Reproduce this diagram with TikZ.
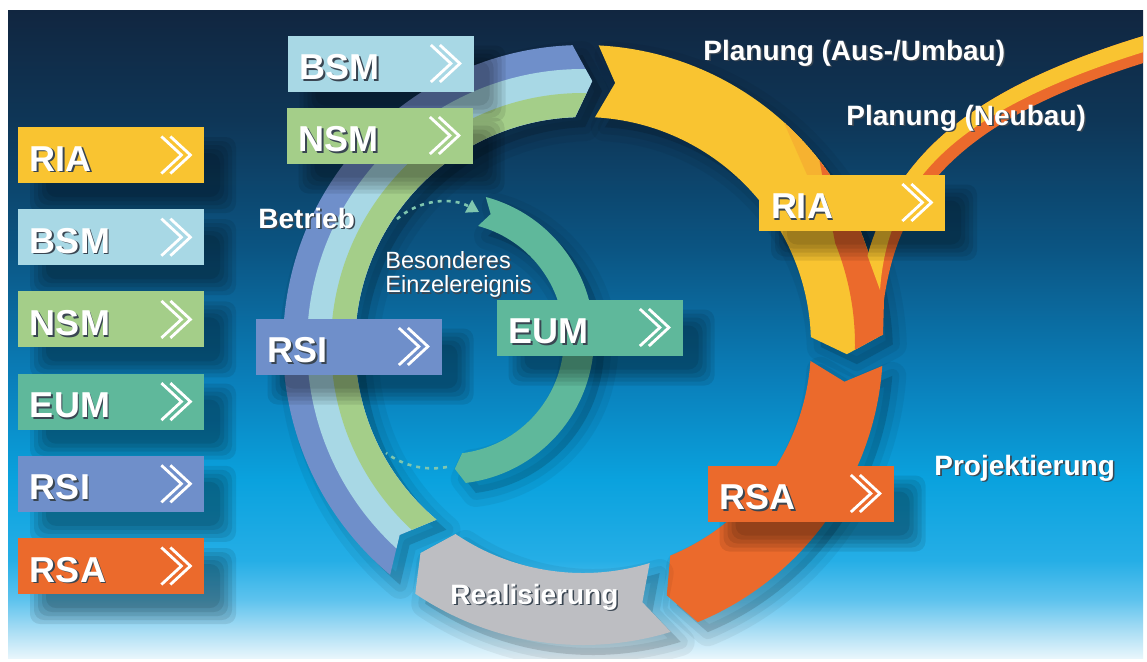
\documentclass[tikz,border=0pt]{standalone}
\usepackage{fontspec}
\setmainfont{Liberation Sans}
\usetikzlibrary{arrows.meta}

\definecolor{ria}{HTML}{F9C431}
\definecolor{bsm}{HTML}{A8D8E5}
\definecolor{nsm}{HTML}{A4CE89}
\definecolor{eum}{HTML}{5FB89B}
\definecolor{rsi}{HTML}{6F8FCA}
\definecolor{rsa}{HTML}{EB6A2C}
\definecolor{realis}{HTML}{BDBEC2}
\definecolor{txtshadow}{HTML}{3A4652}
\definecolor{bgTop}{HTML}{112640}
\definecolor{bgA}{HTML}{0E3657}
\definecolor{bgB}{HTML}{0B5583}
\definecolor{bgC}{HTML}{0A7FBA}
\definecolor{bgD}{HTML}{0AA2DE}
\definecolor{bgE}{HTML}{25AEE6}
\definecolor{bgF}{HTML}{5EC3EE}
\definecolor{bgG}{HTML}{A8DDF4}
\definecolor{bgH}{HTML}{E8F6FC}

\pgfdeclareverticalshading{backdrop}{100bp}{color(0bp)=(bgH); color(25bp)=(bgH); color(27.16bp)=(bgG); color(29.48bp)=(bgF); color(32.56bp)=(bgE); color(38.73bp)=(bgD); color(46.45bp)=(bgC); color(56.5bp)=(bgB); color(66.5bp)=(bgA); color(75bp)=(bgTop); color(100bp)=(bgTop)}

% ring piece: start angle, end angle, inner radius, outer radius, arrow depth
\newcommand{\ringseg}[5]{(#1:#4) arc[start angle=#1,end angle=#2,radius=#4] -- ({#2+#5}:{(#3+#4)/2}) -- (#2:#3) arc[start angle=#2,end angle=#1,radius=#3] -- ({#1+#5}:{(#3+#4)/2}) -- cycle}
\newcommand{\shd}[1]{\makebox[0pt][l]{\kern0.8pt\raisebox{-0.8pt}{\textcolor{txtshadow}{#1}}}#1}
% double chevron at the right end of a box
\newcommand{\chev}[1]{\draw[white,line width=1.4pt,shift={(#1.east)}] (-43,-18.5) -- (-23,0) -- (-43,18.5) (-34,-18.5) -- (-14,0) -- (-34,18.5);}
% soft shadow under a box centred at #1
\newcommand{\boxshade}[1]{\foreach \e in {10,6,2,-2,-6} {\fill[black,opacity=.085,rounded corners=5pt] ([shift={({22-93-\e},{20-28-\e})}]#1) rectangle ([shift={({22+93+\e},{20+28+\e})}]#1);}}

\begin{document}
\begin{tikzpicture}[x=0.5pt,y=-0.5pt,
    softshadow/.style={
      preaction={draw=black,line width=14pt,line join=round,opacity=.05,transform canvas={shift={(#1)}}},
      preaction={draw=black,line width=7pt,line join=round,opacity=.06,transform canvas={shift={(#1)}}},
      preaction={fill=black,opacity=.14,transform canvas={shift={(#1)}}}},
    tagbox/.style={fill=#1, text=white, font=\fontsize{18}{18}\bfseries,
      minimum height=28pt, text width=81pt, inner xsep=6pt, inner ysep=0pt,
      align=left, text height=16pt, text depth=0pt},
    phase/.style={text=white, font=\fontsize{14}{14}\bfseries, inner sep=0pt, anchor=base west},
    dots/.style={eum!80!white, line width=1.3pt, dash pattern=on 2pt off 2.5pt}]

\fill[white] (0,0) rectangle (1147,661);
\useasboundingbox (0,0) rectangle (1147,661);

\begin{scope}
\clip (8,10) rectangle (1143,658);
\shade[shading=backdrop] (8,10) rectangle (1143,658);

% main cycle
\begin{scope}[shift={(583,345)}]
  \fill[rsi,softshadow={10,10}] \ringseg{130}{268}{228}{300}{4};
  \begin{scope}
    \clip \ringseg{130}{268}{228}{300}{4};
    \fill[bsm] (0,0) circle[radius=276];
    \fill[nsm] (0,0) circle[radius=252];
  \end{scope}
  \fill[ria,softshadow={10,10}] \ringseg{273}{358}{228}{300}{4};
  \begin{scope}
    \clip \ringseg{273}{358}{228}{300}{4};
    \fill[ria!80!rsa] (312:300) arc[start angle=312,end angle=340,radius=300] -- (340:280)
      arc[start angle=340,end angle=324,radius=280] -- cycle;
    \fill[rsa] (322:300) arc[start angle=322,end angle=370,radius=300] -- (370:272)
      arc[start angle=370,end angle=338,radius=272] -- cycle;
  \end{scope}
  \fill[rsa,softshadow={10,10}] \ringseg{364}{427.5}{228}{300}{4};
  \fill[realis,softshadow={10,10}] \ringseg{73}{124}{228}{300}{4};
\end{scope}

% inner loop
\begin{scope}[shift={(448,338)}]
  \fill[eum,softshadow={10,10}] \ringseg{285}{443}{116}{146}{4};
\end{scope}

% Neubau branch
\fill[rsa] (1160,31) .. controls (950,92) and (878,170) .. (858,300) -- (857,335) -- (883,335)
  -- (884,300) .. controls (900,185) and (970,114) .. (1160,58) -- cycle;
\begin{scope}
  \clip (1160,31) .. controls (950,92) and (878,170) .. (858,300) -- (857,335) -- (883,335)
    -- (884,300) .. controls (900,185) and (970,114) .. (1160,58) -- cycle;
  \fill[ria] (1160,47) .. controls (955,108) and (888,180) .. (880,290) -- (860,235)
    -- (860,0) -- (1160,0) -- cycle;
\end{scope}

% dotted links
\coordinate (betIn) at (397,219);
\coordinate (eumTail) at (479,212);
\coordinate (eumHead) at (447,467);
\coordinate (betBack) at (386,453);
\draw[dots,-{Triangle[width=7pt,length=6pt]}] (betIn) .. controls (420,199) and (452,197) .. (eumTail);
\draw[dots] (eumHead) .. controls (425,471) and (404,466) .. (betBack);

% boxes on the cycle
\foreach \n/\px/\py in {bsm/380.5/63.5,nsm/379.5/135.5,rsi/348.5/346.5,eum/589.5/327.5,ria/852/202.5,rsa/800.5/493.5} {
  \coordinate (pos\n) at (\px,\py);
  \boxshade{pos\n}
}
\node[tagbox=bsm] (bsmRing) at (posbsm) {\shd{BSM}};
\node[tagbox=nsm] (nsmRing) at (posnsm) {\shd{NSM}};
\node[tagbox=rsi] (rsiRing) at (posrsi) {\shd{RSI}};
\node[tagbox=eum] (eumRing) at (poseum) {\shd{EUM}};
\node[tagbox=ria] (riaRing) at (posria) {\shd{RIA}};
\node[tagbox=rsa] (rsaRing) at (posrsa) {\shd{RSA}};
\foreach \n in {bsmRing,nsmRing,rsiRing,eumRing,riaRing,rsaRing} {\chev{\n}}

% legend
\foreach \lab/\col [count=\i from 0] in {RIA/ria,BSM/bsm,NSM/nsm,EUM/eum,RSI/rsi,RSA/rsa} {
  \coordinate (posleg\lab) at (111,{155+82.2*\i});
  \boxshade{posleg\lab}
  \node[tagbox=\col] (leg\lab) at (posleg\lab) {\shd{\lab}};
  \chev{leg\lab}
}

% phase names
\node[phase] (betrieb) at (258,228) {\shd{Betrieb}};
\node[phase] (planAus) at (703,60) {\shd{Planung (Aus-/Umbau)}};
\node[phase] (planNeu) at (846,125) {\shd{Planung (Neubau)}};
\node[phase] (projekt) at (934,475) {\shd{Projektierung}};
\node[phase] (realis) at (450,604) {\shd{Realisierung}};
\node[text=white, font=\fontsize{11.75}{12}\selectfont, align=left, anchor=north west, inner sep=0pt]
  (einzel) at (385,251) {\shd{Besonderes}\\\shd{Einzelereignis}};
\end{scope}

\end{tikzpicture}
\end{document}
